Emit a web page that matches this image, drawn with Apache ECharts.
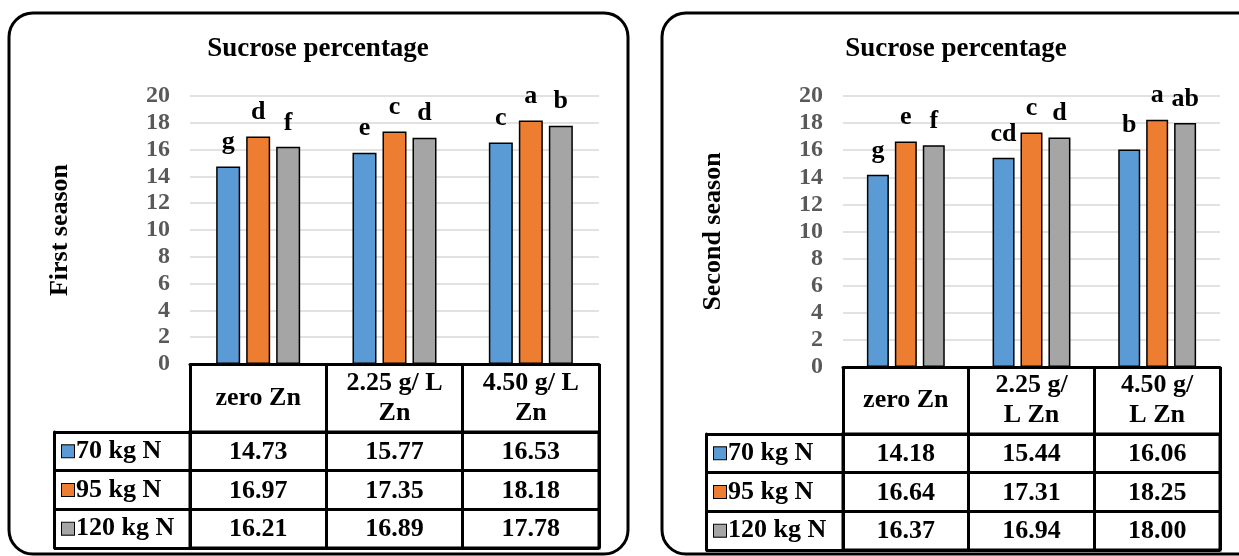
<!DOCTYPE html>
<html>
<head>
<meta charset="utf-8">
<script src="https://cdn.jsdelivr.net/npm/echarts@6/dist/echarts.min.js"></script>
<style>
html,body{margin:0;padding:0;background:#fff;}
#c{width:1239px;height:556px;}
</style>
</head>
<body>
<div id="c"></div>
<script>
// ---------- data ----------
const categoriesS1 = ['zero Zn', '2.25 g/ L\nZn', '4.50 g/ L\nZn'];
const categoriesS2 = ['zero Zn', '2.25 g/\nL Zn', '4.50 g/\nL Zn'];
const seriesNames = ['70 kg N', '95 kg N', '120 kg N'];

const s1_70 = [14.73, 15.77, 16.53];
const s1_95 = [16.97, 17.35, 18.18];
const s1_120 = [16.21, 16.89, 17.78];
const s1_letters70 = ['g', 'e', 'c'];
const s1_letters95 = ['d', 'c', 'a'];
const s1_letters120 = ['f', 'd', 'b'];

const s2_70 = [14.18, 15.44, 16.06];
const s2_95 = [16.64, 17.31, 18.25];
const s2_120 = [16.37, 16.94, 18.00];
const s2_letters70 = ['g', 'cd', 'b'];
const s2_letters95 = ['e', 'c', 'a'];
const s2_letters120 = ['f', 'd', 'ab'];

const yMin = 0, yMax = 20, yStep = 2;
const chartTitle = 'Sucrose percentage';
const seasonNames = ['First season', 'Second season'];

// ---------- style / layout ----------
const FONT = "'Liberation Serif','Times New Roman',serif";
const COLORS = ['#5B9BD5', '#ED7D31', '#A5A5A5'];
const TABLE_FS = 26;

const panels = [
  { cats: categoriesS1, vals: [s1_70, s1_95, s1_120], letters: [s1_letters70, s1_letters95, s1_letters120],
    name: seasonNames[0],
    gx: 190, gw: 409, gTop: 96, gBottom: 364, tTop: 432, tBottom: 548, legW: 136, markMargin: 128,
    barWidth: 24, barGap: '25%', titleX: 318, box: {x: 9, y: 13, w: 619, h: 541} },
  { cats: categoriesS2, vals: [s2_70, s2_95, s2_120], letters: [s2_letters70, s2_letters95, s2_letters120],
    name: seasonNames[1],
    gx: 843, gw: 377, gTop: 96, gBottom: 367, tTop: 434, tBottom: 550, legW: 137, markMargin: 129,
    barWidth: 22, barGap: '27%', titleX: 956, box: {x: 662, y: 13, w: 640, h: 541} }
];

const grid = [], xAxis = [], yAxis = [], series = [], graphic = [];

const richLegend = { t: { fontSize: TABLE_FS, fontWeight: 'bold', fontFamily: FONT, color: '#000', padding: [0, 0, 0, 2] } };
COLORS.forEach((c, i) => {
  richLegend['m' + i] = { width: 12, height: 12, backgroundColor: c, borderColor: '#000', borderWidth: 1 };
});

panels.forEach((p, pi) => {
  const gA = grid.length;
  grid.push({ left: p.gx, width: p.gw, top: p.gTop, height: p.gBottom - p.gTop, containLabel: false });
  grid.push({ left: p.gx, width: p.gw, top: p.tTop, height: p.tBottom - p.tTop, containLabel: false,
              show: true, borderColor: '#000', borderWidth: 3, backgroundColor: 'transparent' });
  const gB = gA + 1;

  // bar chart x axis = table header row
  const xA = xAxis.length;
  xAxis.push({
    type: 'category', gridIndex: gA, data: p.cats,
    axisLine: { show: true, lineStyle: { color: '#000', width: 3 } },
    axisTick: { show: true, length: p.tTop - p.gBottom, inside: false, lineStyle: { color: '#000', width: 3 } },
    axisLabel: { show: true, margin: (p.tTop - p.gBottom) / 2, verticalAlign: 'middle', interval: 0,
      fontSize: TABLE_FS, fontWeight: 'bold', fontFamily: FONT, color: '#000', lineHeight: 30 },
    splitLine: { show: false }
  });
  // table x axis
  const xB = xAxis.length;
  xAxis.push({
    type: 'category', gridIndex: gB, data: p.cats, position: 'top',
    axisLine: { show: false }, axisTick: { show: false }, axisLabel: { show: false },
    splitLine: { show: true, interval: 0, lineStyle: { color: '#000', width: 3 } }
  });

  const yA = yAxis.length;
  yAxis.push({
    type: 'value', gridIndex: gA, min: yMin, max: yMax, interval: yStep,
    name: p.name, nameLocation: 'middle', nameRotate: 90, nameGap: 117,
    nameTextStyle: { fontSize: 26, fontWeight: 'bold', fontFamily: FONT, color: '#000' },
    axisLine: { show: false }, axisTick: { show: false },
    axisLabel: { margin: 20, fontSize: 24, fontWeight: 'bold', fontFamily: FONT, color: '#595959' },
    splitLine: { show: true, lineStyle: { color: '#D9D9D9', width: 1.5 } }
  });
  const yB = yAxis.length;
  yAxis.push({
    type: 'category', gridIndex: gB, data: seriesNames, inverse: true, position: 'left',
    axisLine: { show: false },
    axisTick: { show: true, length: p.legW, inside: false, lineStyle: { color: '#000', width: 3 } },
    axisLabel: { show: true, align: 'left', margin: p.markMargin, interval: 0,
      formatter: (v, i) => '{m' + i + '|}{t|' + v + '}', rich: richLegend },
    splitLine: { show: true, interval: 0, lineStyle: { color: '#000', width: 3 } }
  });
  // left border of legend column
  yAxis.push({
    type: 'category', gridIndex: gB, data: seriesNames, position: 'left', offset: p.legW,
    axisLine: { show: true, lineStyle: { color: '#000', width: 3 } },
    axisTick: { show: false }, axisLabel: { show: false }, splitLine: { show: false }
  });

  p.vals.forEach((vals, si) => {
    series.push({
      type: 'bar', name: seriesNames[si], xAxisIndex: xA, yAxisIndex: yA, data: vals,
      barWidth: p.barWidth, barGap: p.barGap,
      itemStyle: { color: COLORS[si], borderColor: '#000', borderWidth: 1.5 },
      label: { show: true, position: 'top', distance: 11,
        formatter: (q) => p.letters[si][q.dataIndex],
        fontSize: 26, fontWeight: 'bold', fontFamily: FONT, color: '#000' },
      silent: true, animation: false
    });
  });

  // table cell values
  const cells = [];
  p.vals.forEach((vals, si) => vals.forEach((v, ci) => cells.push([ci, si, v])));
  series.push({
    type: 'custom', xAxisIndex: xB, yAxisIndex: yB, data: cells,
    renderItem: (params, api) => {
      const pt = api.coord([api.value(0), api.value(1)]);
      return { type: 'text', x: pt[0], y: pt[1] + 1,
        style: { text: Number(api.value(2)).toFixed(2), align: 'center', verticalAlign: 'middle',
          fontSize: TABLE_FS, fontWeight: 'bold', fontFamily: FONT, fill: '#000' } };
    },
    silent: true, animation: false
  });

  graphic.push({
    type: 'rect', shape: { x: p.box.x, y: p.box.y, width: p.box.w, height: p.box.h, r: 24 },
    style: { fill: 'none', stroke: '#000', lineWidth: 3 }, silent: true, z: 100
  });
  graphic.push({
    type: 'text', x: p.titleX, y: 49,
    style: { text: chartTitle, align: 'center', verticalAlign: 'middle',
      fontSize: 27, fontWeight: 'bold', fontFamily: FONT, fill: '#000' }
  });
});

const chart = echarts.init(document.getElementById('c'), null, { renderer: 'canvas' });
chart.setOption({
  animation: false,
  backgroundColor: '#fff',
  grid, xAxis, yAxis, series, graphic,
  tooltip: { show: false }
});
</script>
</body>
</html>
